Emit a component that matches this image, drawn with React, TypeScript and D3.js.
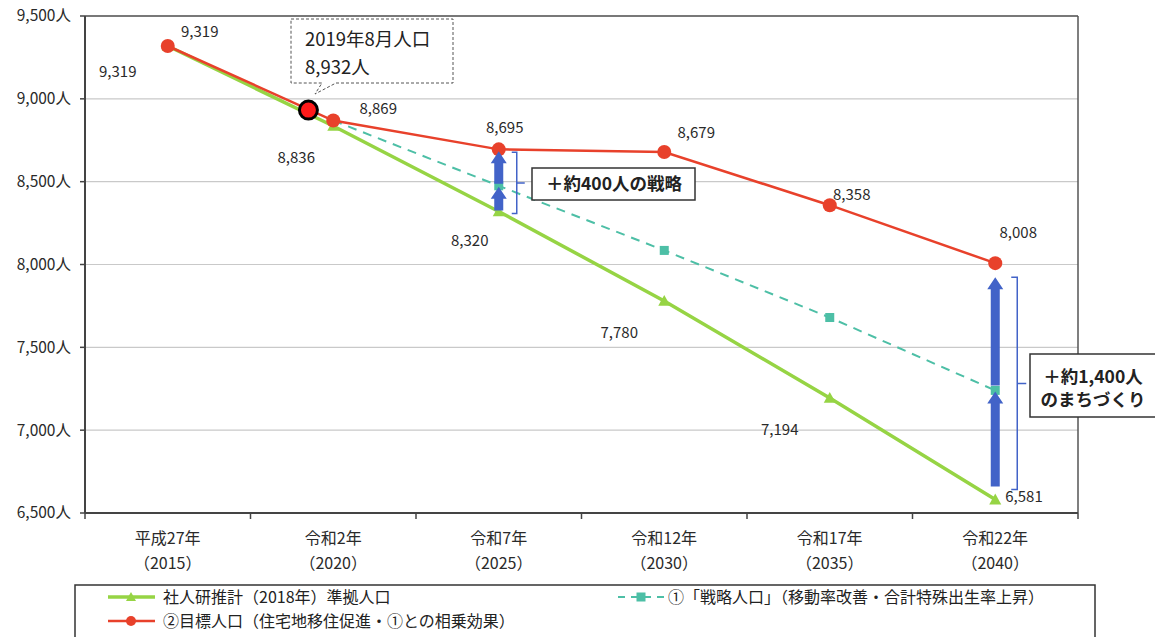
import React from "react";
import * as d3 from "d3";

const categories = ["2015", "2020", "2025", "2030", "2035", "2040"];
const catLine1 = ["平成27年", "令和2年", "令和7年", "令和12年", "令和17年", "令和22年"];
const catLine2 = ["（2015）", "（2020）", "（2025）", "（2030）", "（2035）", "（2040）"];
const yTicks = [6500, 7000, 7500, 8000, 8500, 9000, 9500];

const shajinken = [9319, 8836, 8320, 7780, 7194, 6581];
const senryaku: (number | null)[] = [null, 8869, 8475, 8085, 7680, 7240];
const mokuhyo = [9319, 8869, 8695, 8679, 8358, 8008];
const current2019 = 8932;

// label offsets (layout only)
const redLabelOff = [[32, -14], [45, -12], [6, -22], [32, -19], [22, -10], [23, -30]];
const greenLabelOff = [[-50, 26], [-37, 32], [-29, 29], [-45, 32], [-50, 32], [10, -3]];

const W = 1155, H = 637;
const left = 85, right = 1078, top = 16, bottom = 513;
const RED = "#E8412B";
const GREEN = "#96D444";
const TEAL = "#4DBFA6";
const BLUE = "#4263C8";
const FONT = "'Noto Sans CJK JP', 'Noto Sans', sans-serif";

const fmt = d3.format(",");

function arrowPath(x: number, yBase: number, yTip: number) {
  const sw = 4.5, hw = 8, hl = 12;
  const yh = yTip + hl;
  return `M${x - sw},${yBase}L${x - sw},${yh}L${x - hw},${yh}L${x},${yTip}L${x + hw},${yh}L${x + sw},${yh}L${x + sw},${yBase}Z`;
}

export default function App() {
  const xb = d3.scaleBand<string>().domain(categories).range([left, right]).padding(0);
  const bw = xb.bandwidth();
  const x = (i: number) => (xb(categories[i]) as number) + bw / 2;
  const y = d3.scaleLinear().domain([6500, 9500]).range([bottom, top]);

  const line = d3
    .line<number | null>()
    .defined((d) => d !== null)
    .x((_, i) => x(i))
    .y((d) => y(d as number));

  const greenPath = line(shajinken)!;
  const tealPath = line(senryaku)!;
  const redPath = line(mokuhyo)!;

  const xCur = left + bw * (0.5 + 0.85);
  const yCur = y(current2019);

  const tri = (cx: number, cy: number, s: number) =>
    `M${cx},${cy - s}L${cx + s},${cy + s * 0.8}L${cx - s},${cy + s * 0.8}Z`;

  const boundaries = d3.range(categories.length + 1).map((i) => left + i * bw);

  const x25 = x(2), x40 = x(5);
  const b25Bot = y(shajinken[2]) - 1, b25Top = y(mokuhyo[2]) + 2;
  const b40Bot = y(shajinken[5]) - 13, b40Top = y(mokuhyo[5]) + 14;

  return (
    <svg width={W} height={H} style={{ display: "block", position: "absolute", left: 0, top: 0 }} fontFamily={FONT}>
      <rect width={W} height={H} fill="#fff" />
      {yTicks.map((t) => (
        <line key={t} x1={left} x2={right} y1={y(t)} y2={y(t)} stroke="#C9C9C9" strokeWidth={1.2} />
      ))}
      <line x1={right} x2={right} y1={top} y2={bottom} stroke="#555" strokeWidth={1.5} />
      <line x1={left} x2={right} y1={top} y2={top} stroke="#555" strokeWidth={1.5} />
      <line x1={left} x2={left} y1={top} y2={bottom} stroke="#444" strokeWidth={2} />
      <line x1={left} x2={right} y1={bottom} y2={bottom} stroke="#444" strokeWidth={2} />
      {yTicks.map((t) => (
        <g key={"yt" + t}>
          <line x1={left - 5} x2={left} y1={y(t)} y2={y(t)} stroke="#444" strokeWidth={1.5} />
          <text x={left - 14} y={y(t)} dy="0.35em" textAnchor="end" fontSize={15.5} fill="#2a2a2a">
            {fmt(t)}人
          </text>
        </g>
      ))}
      {boundaries.map((bx, i) => (
        <line key={"xt" + i} x1={bx} x2={bx} y1={bottom} y2={bottom + 6} stroke="#444" strokeWidth={1.5} />
      ))}
      {categories.map((c, i) => (
        <g key={"xl" + c}>
          <text x={x(i)} y={538} dy="0.36em" textAnchor="middle" fontSize={16} fill="#2a2a2a">
            {catLine1[i]}
          </text>
          <text x={x(i)} y={563} dy="0.36em" textAnchor="middle" fontSize={16} fill="#2a2a2a">
            {catLine2[i]}
          </text>
        </g>
      ))}

      <path d={tealPath} fill="none" stroke={TEAL} strokeWidth={2} strokeDasharray="9,7" />
      <path d={greenPath} fill="none" stroke={GREEN} strokeWidth={3.5} />
      <path d={redPath} fill="none" stroke={RED} strokeWidth={2.5} />

      {senryaku.map((v, i) =>
        v === null || i < 2 ? null : (
          <rect key={"ts" + i} x={x(i) - 4.5} y={y(v) - 4.5} width={9} height={9} fill={TEAL} />
        )
      )}
      {shajinken.map((v, i) => (
        <path key={"gt" + i} d={tri(x(i), y(v), 6)} fill={GREEN} />
      ))}
      {mokuhyo.map((v, i) => (
        <circle key={"rc" + i} cx={x(i)} cy={y(v)} r={7} fill={RED} />
      ))}

      <path d={arrowPath(x25, b25Bot, y(senryaku[2] as number) + 1)} fill={BLUE} />
      <path d={arrowPath(x25, y(senryaku[2] as number) - 2, b25Top)} fill={BLUE} />
      <path d={arrowPath(x40, b40Bot, y(senryaku[5] as number) + 1)} fill={BLUE} />
      <path d={arrowPath(x40, y(senryaku[5] as number) - 5, b40Top)} fill={BLUE} />

      {(() => {
        const bx = x25 + 18, t = y(mokuhyo[2]) + 3, b = y(shajinken[2]) + 2, m = (t + b) / 2;
        return (
          <path
            d={`M${bx - 5},${t}L${bx},${t}L${bx},${b}L${bx - 5},${b}M${bx},${m}L${bx + 8},${m}`}
            fill="none"
            stroke={BLUE}
            strokeWidth={1.5}
          />
        );
      })()}
      {(() => {
        const bx = x40 + 22, t = y(mokuhyo[5]) + 14, b = y(shajinken[5]) - 10, m = (t + b) / 2;
        return (
          <path
            d={`M${bx - 6},${t}L${bx},${t}L${bx},${b}L${bx - 6},${b}M${bx},${m}L${bx + 9},${m}`}
            fill="none"
            stroke={BLUE}
            strokeWidth={1.5}
          />
        );
      })()}

      <rect x={532} y={168} width={163} height={32} fill="#fff" stroke="#333" strokeWidth={1.5} />
      <text x={614} y={184} dy="0.36em" textAnchor="middle" fontSize={17.5} fontWeight="bold" fill="#222">
        ＋約400人の戦略
      </text>
      <rect x={1030} y={354} width={130} height={63} fill="#fff" stroke="#333" strokeWidth={1.5} />
      <text x={1093} y={377} dy="0.36em" textAnchor="middle" fontSize={17.5} fontWeight="bold" fill="#222">
        ＋約1,400人
      </text>
      <text x={1093} y={400} dy="0.36em" textAnchor="middle" fontSize={17.5} fontWeight="bold" fill="#222">
        のまちづくり
      </text>

      <path
        d={`M291,19L453,19L453,83L336,83L315,94L322,83L291,83Z`}
        fill="#fff"
        stroke="#555"
        strokeWidth={1}
        strokeDasharray="3,2"
      />
      <text x={305} y={39} dy="0.36em" fontSize={18.5} fill="#222">
        2019年8月人口
      </text>
      <text x={305} y={67} dy="0.36em" fontSize={18.5} fill="#222">
        {fmt(current2019)}人
      </text>
      <circle cx={xCur} cy={yCur} r={9} fill="#FF1A1A" stroke="#000" strokeWidth={3} />

      {mokuhyo.map((v, i) => (
        <text
          key={"rl" + i}
          x={x(i) + redLabelOff[i][0]}
          y={y(v) + redLabelOff[i][1]}
          dy="0.35em"
          textAnchor="middle"
          fontSize={15}
          fill="#2a2a2a"
        >
          {fmt(v)}
        </text>
      ))}
      {shajinken.map((v, i) => (
        <text
          key={"gl" + i}
          x={x(i) + greenLabelOff[i][0]}
          y={y(v) + greenLabelOff[i][1]}
          dy="0.35em"
          textAnchor={i === 5 ? "start" : "middle"}
          fontSize={15}
          fill="#2a2a2a"
        >
          {fmt(v)}
        </text>
      ))}

      <rect x={75} y={585} width={1020} height={70} fill="#fff" stroke="#333" strokeWidth={1.5} />
      <line x1={108} x2={155} y1={597} y2={597} stroke={GREEN} strokeWidth={3.5} />
      <path d={tri(131, 597, 5)} fill={GREEN} />
      <text x={163} y={597} dy="0.36em" fontSize={16} fill="#222">
        社人研推計（2018年）準拠人口
      </text>
      <line x1={618} x2={664} y1={597} y2={597} stroke={TEAL} strokeWidth={2} strokeDasharray="7,6" />
      <rect x={636.5} y={592.5} width={9} height={9} fill={TEAL} />
      <text x={668} y={597} dy="0.36em" fontSize={16} fill="#222">
        ①「戦略人口」（移動率改善・合計特殊出生率上昇）
      </text>
      <line x1={108} x2={155} y1={621} y2={621} stroke={RED} strokeWidth={2.5} />
      <circle cx={131} cy={621} r={5} fill={RED} />
      <text x={163} y={621} dy="0.36em" fontSize={16} fill="#222">
        ②目標人口（住宅地移住促進・①との相乗効果）
      </text>
    </svg>
  );
}
